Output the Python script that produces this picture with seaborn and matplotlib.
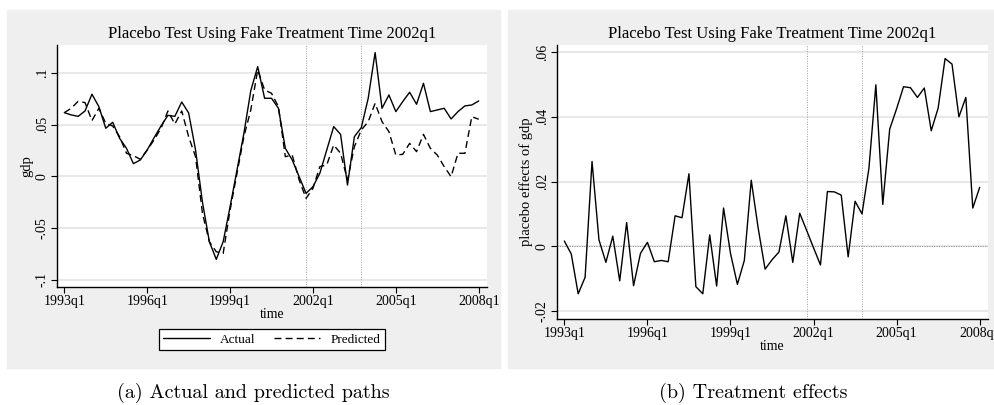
import numpy as np
import pandas as pd
import seaborn as sns
import matplotlib.pyplot as plt
from matplotlib.lines import Line2D
from matplotlib.patches import Rectangle

# quarters 1993q1 .. 2008q1 (61 periods)
quarters = list(range(61))
tick_pos = [0, 12, 24, 36, 48, 60]
tick_labels = ['1993q1', '1996q1', '1999q1', '2002q1', '2005q1', '2008q1']
vlines = [35, 43]  # 2001q4, 2003q4

actual = [0.0616, 0.0594, 0.0580, 0.0632, 0.0794, 0.0674, 0.0465, 0.0523, 0.0368, 0.0271,
          0.0123, 0.0158, 0.0255, 0.0374, 0.0487, 0.0590, 0.0580, 0.0719, 0.0613, 0.0255,
          -0.0250, -0.0632, -0.0803, -0.0632, -0.0294, 0.0060, 0.0416, 0.0829, 0.1061, 0.0755,
          0.0755, 0.0658, 0.0271, 0.0158, -0.0003, -0.0165, -0.0100, 0.0030, 0.0255, 0.0481,
          0.0406, -0.0084, 0.0384, 0.0471, 0.0755, 0.1197, 0.0658, 0.0787, 0.0626, 0.0723,
          0.0813, 0.0697, 0.0900, 0.0626, 0.0642, 0.0658, 0.0555, 0.0626, 0.0681, 0.0690,
          0.0729]
predicted = [0.0616, 0.0658, 0.0726, 0.0713, 0.0539, 0.0658, 0.0513, 0.0487, 0.0384, 0.0223,
             0.0200, 0.0165, 0.0255, 0.0352, 0.0465, 0.0632, 0.0506, 0.0632, 0.0384, 0.0190,
             -0.0358, -0.0632, -0.0729, -0.0745, -0.0326, 0.0029, 0.0384, 0.0642, 0.1029, 0.0835,
             0.0803, 0.0674, 0.0190, 0.0206, -0.0035, -0.0213, -0.0116, 0.0094, 0.0110, 0.0303,
             0.0223, -0.0035, 0.0287, 0.0448, 0.0529, 0.0706, 0.0529, 0.0432, 0.0206, 0.0213,
             0.0319, 0.0239, 0.0406, 0.0271, 0.0206, 0.0094, -0.0003, 0.0223, 0.0223, 0.0577,
             0.0552]
effects = [0.0016, -0.0024, -0.0147, -0.0096, 0.0262, 0.0020, -0.0050, 0.0031, -0.0107, 0.0073,
           -0.0122, -0.0022, 0.0012, -0.0048, -0.0044, -0.0048, 0.0094, 0.0088, 0.0224, -0.0125,
           -0.0147, 0.0035, -0.0123, 0.0118, -0.0022, -0.0118, -0.0044, 0.0204, 0.0056, -0.0071,
           -0.0042, -0.0018, 0.0094, -0.0050, 0.0102, 0.0049, -0.0005, -0.0058, 0.0169, 0.0168,
           0.0158, -0.0033, 0.0139, 0.0100, 0.0241, 0.0499, 0.0129, 0.0362, 0.0425, 0.0493,
           0.0490, 0.0460, 0.0489, 0.0357, 0.0427, 0.0580, 0.0563, 0.0400, 0.0460, 0.0118,
           0.0182]

paths = pd.DataFrame({'time': quarters * 2,
                      'gdp': actual + predicted,
                      'series': ['Actual'] * 61 + ['Predicted'] * 61})
eff = pd.DataFrame({'time': quarters, 'effect': effects})

sns.set_theme(style='white')
plt.rcParams['font.family'] = ['Liberation Serif', 'DejaVu Serif']
for k in ['text.color', 'axes.labelcolor', 'xtick.color', 'ytick.color']:
    plt.rcParams[k] = 'black'

W, H = 994, 405
fig = plt.figure(figsize=(W / 100, H / 100), dpi=100)
bg = '#efefef'


def fx(x):
    return x / W


def fy(y):
    return 1 - y / H


# panel backgrounds
fig.patches.append(Rectangle((fx(7), fy(368)), fx(500 - 7), (368 - 10) / H,
                             transform=fig.transFigure, color=bg, zorder=-5))
fig.patches.append(Rectangle((fx(508), fy(368)), fx(W - 508), (368 - 10) / H,
                             transform=fig.transFigure, color=bg, zorder=-5))

ax1 = fig.add_axes([fx(57), fy(287), fx(487 - 57), (287 - 45) / H])
ax2 = fig.add_axes([fx(557), fy(319), fx(988 - 557), (319 - 45) / H])

sns.lineplot(data=paths, x='time', y='gdp', style='series', color='black',
             dashes={'Actual': '', 'Predicted': (5, 3)}, linewidth=1.0,
             legend=False, ax=ax1)
sns.lineplot(data=eff, x='time', y='effect', color='black', linewidth=1.0, ax=ax2)


def style_axis(ax, yticks, ylabels, ylim, ylabel):
    ax.set_xlim(-1.06, 61.2)
    ax.set_ylim(*ylim)
    ax.set_xticks(tick_pos)
    ax.set_xticklabels(tick_labels, fontsize=10)
    ax.set_yticks(yticks)
    ax.set_yticklabels(ylabels, fontsize=10, rotation=90, va='center')
    for y in yticks:
        ax.axhline(y, color='#e8e8e8', linewidth=1.5, zorder=0)
    for v in vlines:
        ax.axvline(v, color='#a0a0a0', linewidth=0.7, linestyle=(0, (1, 1.5)), zorder=1)
    for s in ['top', 'right']:
        ax.spines[s].set_visible(False)
    for s in ['left', 'bottom']:
        ax.spines[s].set_color('black')
        ax.spines[s].set_linewidth(1.0)
    ax.tick_params(axis='both', which='both', direction='out', length=4, width=0.8,
                   color='black', pad=2, bottom=True, left=True)
    ax.set_xlabel('time', fontsize=10, labelpad=0)
    ax.set_ylabel(ylabel, fontsize=10.5, labelpad=2)
    ax.set_title('Placebo Test Using Fake Treatment Time 2002q1', fontsize=12, pad=5)
    ax.set_facecolor('white')


style_axis(ax1, [-0.1, -0.05, 0, 0.05, 0.1], ['-.1', '-.05', '0', '.05', '.1'],
           (-0.107, 0.127), 'gdp')
style_axis(ax2, [-0.02, 0, 0.02, 0.04, 0.06], ['-.02', '0', '.02', '.04', '.06'],
           (-0.0225, 0.0622), 'placebo effects of gdp')
ax2.axhline(0, color='#888888', linewidth=0.7, linestyle=(0, (1, 1.5)), zorder=1)

handles = [Line2D([], [], color='black', linewidth=1.0, label='Actual'),
           Line2D([], [], color='black', linewidth=1.0, dashes=(5, 3), label='Predicted')]
leg = fig.legend(handles=handles, loc='center', bbox_to_anchor=(fx(272), fy(339.5)),
                 ncol=2, fontsize=9.5, frameon=True, fancybox=False, handlelength=3.5,
                 columnspacing=1.4, borderpad=0.35, handletextpad=0.8)
leg.get_frame().set_edgecolor('black')
leg.get_frame().set_linewidth(0.9)
leg.get_frame().set_facecolor('white')
leg.get_frame().set_alpha(1)

fig.text(fx(253), fy(393), '(a) Actual and predicted paths', family='cmr10',
         fontsize=14.5, ha='center', va='center')
fig.text(fx(753), fy(393), '(b) Treatment effects', family='cmr10',
         fontsize=14.5, ha='center', va='center')

fig.savefig('out.png', dpi=100, facecolor='white')
